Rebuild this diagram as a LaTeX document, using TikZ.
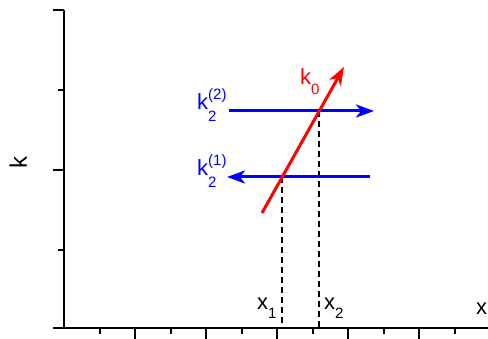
\documentclass[tikz,border=0pt]{standalone}
\usepackage{fontspec}
\setmainfont{Liberation Sans}
\usetikzlibrary{arrows.meta,calc}
\tikzset{
  axis/.style={draw=black, line width=2pt},
  tck/.style={draw=black, line width=2pt},
  beam/.style={draw=blue, line width=3pt, -{Stealth[length=18pt, width=13pt, inset=5pt]}},
  incid/.style={draw=red, line width=3pt, -{Stealth[length=18pt, width=13pt, inset=5pt]}},
  guide/.style={draw=black, line width=1.6pt, dash pattern=on 6pt off 4pt},
  lbl/.style={inner sep=0pt, font=\fontsize{22}{22}\selectfont},
}
% index helpers
\newcommand{\lowix}[2][12pt]{\raisebox{-#1}{\fontsize{15}{15}\selectfont #2}}
\newcommand{\beamlbl}[2]{k\rlap{\raisebox{10pt}{\fontsize{15}{15}\selectfont(#2)}}\lowix{#1}}

\begin{document}
\begin{tikzpicture}[x=1pt, y=-1pt]
  \useasboundingbox (0,0) rectangle (488,339);
  \coordinate (o) at (64,328);
  \coordinate (ytop) at (64,10);
  \coordinate (xend) at (488,328);
  % axes
  \draw[axis] (ytop) -- ($(o)+(0,1)$);
  \draw[axis] (53,328) -- (xend);
  \draw[tck] (53,10) -- (ytop);
  \draw[tck] (58,90) -- (64,90);
  \draw[tck] (53,170) -- (64,170);
  \draw[tck] (58,250) -- (64,250);
  \foreach \i in {1,...,11}{
    \pgfmathsetmacro{\len}{isodd(\i) ? 6 : 11}
    \draw[tck] ($(o)+(35.5*\i,0)$) -- ++(0,\len);
  }
  % beams
  \coordinate (k0s) at (262,213);
  \coordinate (k0e) at (344,67);
  \coordinate (b1s) at (370,177);
  \coordinate (b1e) at (227,177);
  \coordinate (b2s) at (229,111);
  \coordinate (b2e) at (374,111);
  \coordinate (i1) at ($(k0s)!0.2466!(k0e)$);
  \coordinate (i2) at ($(k0s)!0.6986!(k0e)$);
  \draw[guide] (i1) -- (i1 |- o);
  \draw[guide] (i2) -- (i2 |- o);
  \draw[beam] (b1s) -- (b1e);
  \draw[beam] (b2s) -- (b2e);
  \draw[incid] (k0s) -- (k0e);
  % labels
  \node[lbl, font=\fontsize{24}{24}\selectfont, rotate=90, anchor=base] (kax) at (27,163) {k};
  \node[lbl, anchor=base west] (xax) at (476,315) {x};
  \node[lbl, anchor=base west] (x1) at (257,310) {x\lowix[9pt]{1}};
  \node[lbl, anchor=base west] (x2) at (324,310) {x\lowix[9pt]{2}};
  \node[lbl, red, anchor=base west] (k0) at (300,85) {k\lowix[10pt]{0}};
  \node[lbl, blue, anchor=base west] (k2b) at (197,110) {\beamlbl{2}{2}};
  \node[lbl, blue, anchor=base west] (k2a) at (197,176) {\beamlbl{2}{1}};
\end{tikzpicture}
\end{document}
